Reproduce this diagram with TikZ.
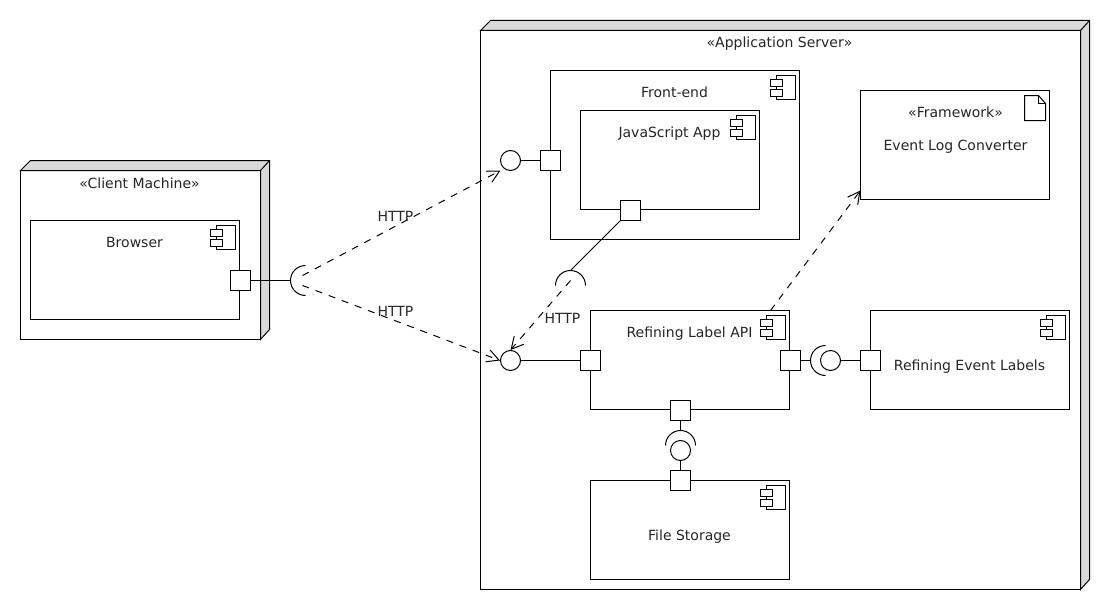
\documentclass[tikz,border=0pt]{standalone}
\usepackage{fontspec}
\setmainfont{DejaVu Sans}
\usetikzlibrary{arrows.meta,positioning}
\definecolor{sidegray}{RGB}{217,217,217}
\tikzstyle{nodebox}=[rectangle,draw=black,fill=white,inner sep=0pt,outer sep=0pt,anchor=north west]
\tikzstyle{compbox}=[nodebox,minimum width=149.25pt,minimum height=74.25pt]
\tikzstyle{portbox}=[rectangle,draw=black,fill=white,inner sep=0pt,minimum size=15pt]
\tikzstyle{ifacecirc}=[circle,draw=black,fill=white,inner sep=0pt,minimum size=15pt]
\tikzstyle{lbl}=[inner sep=0pt,font=\fontsize{10.5}{12}\selectfont,text=black!85]
\tikzstyle{dep}=[-{Straight Barb[length=9pt,width=9.5pt]},dash pattern=on 5.25pt off 5.25pt]
% 3d faces of a deployment node
\newcommand{\boxfaces}[1]{
  \draw[fill=sidegray] (#1.north west)--++(10,-10)-|([shift={(9,-10)}]#1.south east)--(#1.south east)--(#1.north east)--cycle;
  \draw (#1.north east)--++(9,-10);
}
% component glyph in the top right corner
\newcommand{\compicon}[1]{
  \draw[fill=white] ([shift={(-23,5)}]#1.north east) rectangle ([shift={(-4,29)}]#1.north east);
  \draw[fill=white] ([shift={(-29,9)}]#1.north east) rectangle ([shift={(-17,16)}]#1.north east);
  \draw[fill=white] ([shift={(-29,19)}]#1.north east) rectangle ([shift={(-17,26)}]#1.north east);
}
% required interface: half circle whose middle is #1, facing #2
\newcommand{\socket}[2]{
  \draw (#1) arc[start angle=#2,delta angle=90,radius=11.25pt] (#1) arc[start angle=#2,delta angle=-90,radius=11.25pt];
}
\begin{document}
\begin{tikzpicture}[x=0.75pt,y=-0.75pt,line width=0.75pt]
  \useasboundingbox (-0.5,-0.5) rectangle (1109.5,609.5);

  % deployment nodes
  \node[nodebox,minimum width=180pt,minimum height=126.75pt] (client) at (20,170) {};
  \boxfaces{client}
  \node[nodebox,minimum width=450pt,minimum height=419.25pt] (appserver) at (480,30) {};
  \boxfaces{appserver}
  \node[lbl] (clientlbl) at (139,183) {«Client Machine»};
  \node[lbl] (appserverlbl) at (779,43.5) {«Application Server»};

  % components
  \node[compbox,minimum width=156.75pt] (browser) at (30,220) {};
  \node[compbox,minimum width=186.75pt,minimum height=126.75pt] (frontend) at (550,70) {};
  \node[compbox,minimum width=134.25pt] (jsapp) at (580,110) {};
  \node[compbox,minimum width=141.75pt,minimum height=81.75pt] (framework) at (860,90) {};
  \node[compbox] (labelapi) at (590,310) {};
  \node[compbox] (eventlabels) at (870,310) {};
  \node[compbox] (filestore) at (590,480) {};
  \compicon{browser}
  \compicon{frontend}
  \compicon{jsapp}
  \compicon{labelapi}
  \compicon{eventlabels}
  \compicon{filestore}
  \draw ([shift={(-25,5)}]framework.north east)--([shift={(-11,5)}]framework.north east)--([shift={(-4,13)}]framework.north east)--([shift={(-4,30)}]framework.north east)--([shift={(-25,30)}]framework.north east)--cycle;
  \draw ([shift={(-11,5)}]framework.north east)|-([shift={(-4,13)}]framework.north east);

  \node[lbl] (browserlbl) at (134,242) {Browser};
  \node[lbl] (frontendlbl) at (674,92) {Front-end};
  \node[lbl] (jsapplbl) at (669,133) {JavaScript App};
  \node[lbl] (stereolbl) at (955,112) {«Framework»};
  \node[lbl] (frameworklbl) at (955,146) {Event Log Converter};
  \node[lbl] (labelapilbl) at (689,333) {Refining Label API};
  \node[lbl] (eventlabelslbl) at (969,366) {Refining Event Labels};
  \node[lbl] (filestorelbl) at (689,536) {File Storage};

  % ports
  \node[portbox] (pbrowser) at (240,280) {};
  \node[portbox] (pfrontend) at (550,160) {};
  \node[portbox] (pjsapp) at (630,210) {};
  \node[portbox] (papiwest) at (590,360) {};
  \node[portbox] (papieast) at (790,360) {};
  \node[portbox] (papisouth) at (680,410) {};
  \node[portbox] (pevents) at (870,360) {};
  \node[portbox] (pstore) at (680,480) {};

  % provided and required interfaces
  \node[ifacecirc] (ifrontend) at (510,160) {};
  \node[ifacecirc] (iapi) at (510,360) {};
  \node[ifacecirc] (ievents) at (830,360) {};
  \node[ifacecirc] (istore) at (680,450) {};
  \coordinate (sockbrowser) at (290,280);
  \coordinate (sockjsapp) at (570,270);
  \coordinate (sockapi) at (810,360);
  \coordinate (sockstore) at (680,430);
  \socket{sockbrowser}{180}
  \socket{sockjsapp}{90}
  \socket{sockapi}{180}
  \socket{sockstore}{90}

  \draw (pbrowser)--(sockbrowser);
  \draw (pjsapp)--(sockjsapp);
  \draw (pfrontend)--(ifrontend);
  \draw (papiwest)--(iapi);
  \draw (papieast)--(sockapi);
  \draw (pevents)--(ievents);
  \draw (papisouth)--(sockstore);
  \draw (pstore)--(istore);

  % dependencies
  \draw[dep] ([shift={(12,-5)}]sockbrowser)--([shift={(-10,10)}]ifrontend.center);
  \draw[dep] ([shift={(12,5)}]sockbrowser)--(iapi.west);
  \draw[dep] ([shift={(0,10)}]sockjsapp)--(iapi.north);
  \draw[dep] ([shift={(-19,0)}]labelapi.north east)--([shift={(0,-9)}]framework.south west);
  \node[lbl] (http1) at (395,216) {HTTP};
  \node[lbl] (http2) at (395,311) {HTTP};
  \node[lbl] (http3) at (562,318) {HTTP};
\end{tikzpicture}
\end{document}
